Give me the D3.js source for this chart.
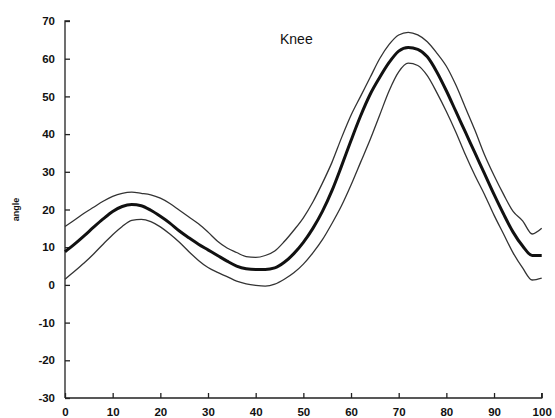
<!DOCTYPE html>
<html><head><meta charset="utf-8">
<script src="https://cdn.jsdelivr.net/npm/d3@7"></script>
<style>body{margin:0;background:#fff;} svg{display:block;}</style>
</head><body>
<script>
const title = "Knee";
const yLabel = "angle";
const xTicks = [0,10,20,30,40,50,60,70,80,90,100];
const yTicks = [-30,-20,-10,0,10,20,30,40,50,60,70];
const cycle = d3.range(0, 101, 2);
const meanAngle = [8.8,10.8,13,15.3,17.5,19.5,20.8,21.3,21.0,19.8,18.2,16.4,14.3,12.5,10.8,9.3,7.8,6.3,5.0,4.3,4.1,4.1,4.5,6.0,8.3,11.3,15.0,19.5,25,31.5,38.3,44.8,50.5,55,59,62,63,62.5,60.5,56.5,51.5,46,40.5,35,29.5,24,18.8,14,10.3,7.8,7.8];
const upperAngle = [15.5,17.2,19,20.6,22.2,23.5,24.3,24.6,24.3,23.9,23,21.6,19.8,18.0,16.2,14.0,11.6,9.8,8.6,7.5,7.3,7.8,9,11.5,14.5,17.8,22,27,32.5,39,45,50,55,60,63.8,66.3,67,66.3,64.5,61.5,58,53,47,41,34.5,29,24,19.5,17,13.5,15];
const lowerAngle = [1.5,3.6,5.8,8.2,10.8,13.3,15.5,17.1,17.4,16.8,15.4,13.5,11.3,8.8,6.5,4.6,3.3,2.2,1.0,0.3,-0.1,-0.3,0.2,1.5,3.2,5.5,8.5,12,16.3,21,26.5,32.5,38.5,45,51.5,56.5,58.8,58.2,55.5,51,46,40.5,34.5,29,24,18.5,13.5,8.5,4.5,1.3,1.8];

const W = 555, H = 418;
const svg = d3.select("body").append("svg").attr("width", W).attr("height", H);
const x = d3.scaleLinear().domain([0,100]).range([65, 541.7]);
const y = d3.scaleLinear().domain([-30,70]).range([398, 21]);

const font = "Liberation Sans, Arial, sans-serif";
const fmt = d => String(d);

// y axis
const yAxis = svg.append("g").attr("transform", `translate(${x(0)},0)`)
  .call(d3.axisRight(y).tickValues(yTicks).tickSize(5).tickFormat(fmt));
yAxis.select(".domain").attr("d", `M5,${y(70)}H0V${y(-30)}`).attr("stroke", "#222").attr("stroke-width", 1.3);
yAxis.selectAll(".tick line").attr("stroke", "#222").attr("stroke-width", 1.3);
yAxis.selectAll(".tick text").attr("x", -10).attr("text-anchor", "end")
  .attr("font-family", font).attr("font-size", 11.5).attr("font-weight", "bold").attr("fill", "#111");

// x axis
const xAxis = svg.append("g").attr("transform", `translate(0,${y(-30)})`)
  .call(d3.axisTop(x).tickValues(xTicks).tickSize(5).tickFormat(fmt));
xAxis.select(".domain").attr("d", `M${x(0)},0H${x(100)}V-5`).attr("stroke", "#222").attr("stroke-width", 1.3);
xAxis.selectAll(".tick line").attr("stroke", "#222").attr("stroke-width", 1.3);
xAxis.selectAll(".tick text").attr("y", 18).attr("dy", 0)
  .attr("font-family", font).attr("font-size", 11.5).attr("font-weight", "bold").attr("fill", "#111");

const line = arr => d3.line().x((d,i) => x(cycle[i])).y(d => y(d)).curve(d3.curveMonotoneX)(arr);

svg.append("path").attr("d", line(upperAngle)).attr("fill", "none").attr("stroke", "#333").attr("stroke-width", 1.3);
svg.append("path").attr("d", line(lowerAngle)).attr("fill", "none").attr("stroke", "#333").attr("stroke-width", 1.3);
svg.append("path").attr("d", line(meanAngle)).attr("fill", "none").attr("stroke", "#111").attr("stroke-width", 3);

svg.append("text").attr("x", 280).attr("y", 44).text(title)
  .attr("font-family", font).attr("font-size", 14).attr("fill", "#111");

svg.append("text").attr("transform", `translate(19,${y(20)}) rotate(-90)`)
  .attr("text-anchor", "middle").text(yLabel)
  .attr("font-family", font).attr("font-size", 9).attr("font-weight", "bold").attr("fill", "#111");
</script>
</body></html>
